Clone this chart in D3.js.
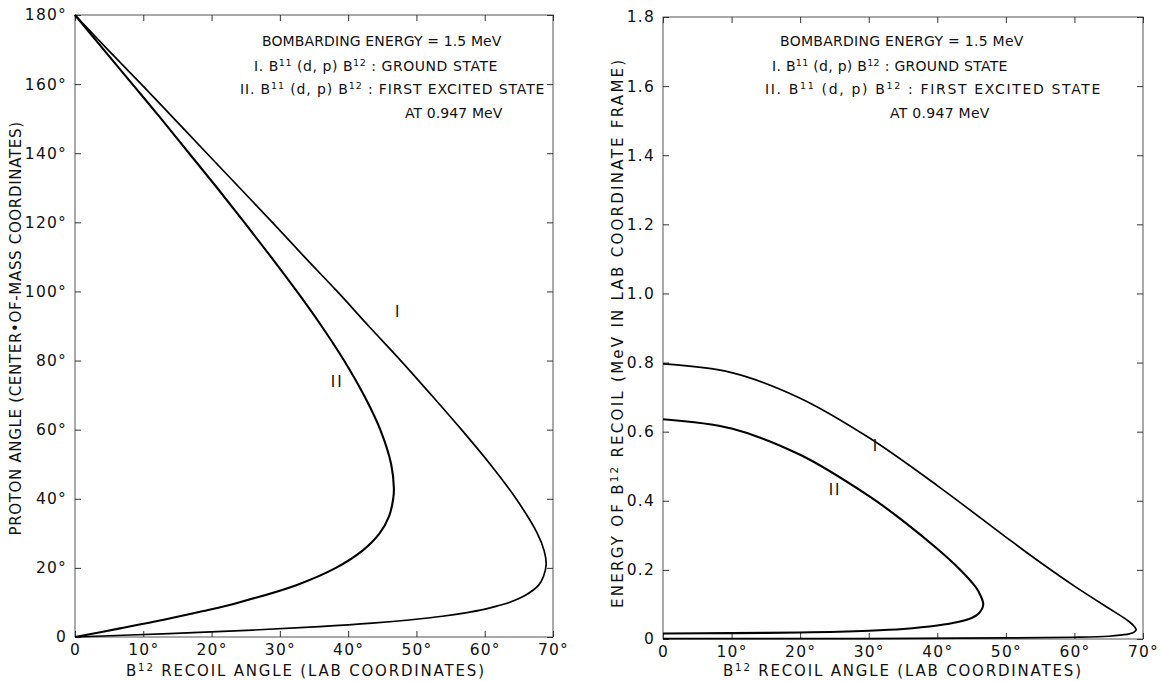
<!DOCTYPE html>
<html>
<head>
<meta charset="utf-8">
<script src="https://cdn.jsdelivr.net/npm/d3@7"></script>
<style>
  html, body { margin: 0; padding: 0; background: #fff; }
  svg { display: block; }
  text { font-family: "DejaVu Sans", "Liberation Sans", sans-serif; fill: #111; }
</style>
</head>
<body>
<svg id="chart" width="1162" height="681"></svg>
<script>
// ---------------- data ----------------
const xTickValues = [0, 10, 20, 30, 40, 50, 60, 70];
const xTickLabels = ["0", "10°", "20°", "30°", "40°", "50°", "60°", "70°"];
const leftYTickValues = [0, 20, 40, 60, 80, 100, 120, 140, 160, 180];
const leftYTickLabels = ["0", "20°", "40°", "60°", "80°", "100°", "120°", "140°", "160°", "180°"];
const rightYTickValues = [0, 0.2, 0.4, 0.6, 0.8, 1.0, 1.2, 1.4, 1.6, 1.8];
const rightYTickLabels = ["0", "0.2", "0.4", "0.6", "0.8", "1.0", "1.2", "1.4", "1.6", "1.8"];

// Left panel: [B12 recoil angle (lab, deg), proton angle (CM, deg)]
const angleGround = [
  [0,180],[4.8,170],[9.7,160],[14.5,150],[19.3,140],[24.1,130],[28.9,120],[33.6,110],
  [38.4,100],[43.0,90],[47.7,80],[52.2,70],[56.6,60],[60.8,50],[64.6,40],[67.7,30],
  [68.7,25],[69.0,21],[68.6,17.5],[67.9,15],[65.9,12],[63.6,10],[61.9,9],[59.9,8],
  [57.2,7],[53.8,6],[49.3,5],[43.5,4],[35.8,3],[26.0,2],[13.8,1],[0,0]
];
const angleExcited = [
  [0,180],[4.2,170],[8.4,160],[12.6,150],[16.7,140],[20.8,130],[24.8,120],[28.7,110],
  [32.5,100],[36.1,90],[39.4,80],[42.3,70],[44.7,60],[46.3,50],[46.7,43],[46.6,40],
  [46.0,35],[44.6,30],[42.1,25],[38.2,20],[32.4,15],[24.0,10],[18.8,7.5],[13.0,5],
  [6.6,2.5],[0,0]
];
// Right panel: [B12 recoil angle (lab, deg), B12 energy (MeV, lab)]
const energyGround = [
  [0,0.796],[10,0.771],[20,0.697],[30,0.583],[40,0.444],[50,0.295],[55,0.222],
  [60,0.153],[65,0.089],[67,0.064],[68,0.050],[68.7,0.037],[69.0,0.027],[68.7,0.020],
  [68,0.015],[67,0.012],[65,0.008],[60,0.005],[50,0.003],[30,0.001],[0,0.001]
];
const energyExcited = [
  [0,0.636],[10,0.609],[20,0.533],[30,0.414],[35,0.342],[40,0.261],[43,0.207],
  [45,0.165],[46,0.138],[46.7,0.100],[46,0.073],[45,0.061],[43,0.049],[40,0.039],
  [35,0.029],[30,0.024],[20,0.019],[10,0.017],[0,0.016]
];

// ---------------- drawing ----------------
const svg = d3.select("#chart");

function superscriptText(g, x, y, parts, opts) {
  const t = g.append("text").attr("x", x).attr("y", y)
    .attr("font-size", opts.size).attr("letter-spacing", opts.ls || 0);
  if (opts.anchor) t.attr("text-anchor", opts.anchor);
  if (opts.transform) t.attr("transform", opts.transform);
  if (opts.len) t.attr("textLength", opts.len).attr("lengthAdjust", "spacing");
  parts.forEach(p => {
    if (typeof p === "string") {
      t.append("tspan").text(p);
    } else {
      t.append("tspan").attr("font-size", opts.size * 0.68)
        .attr("baseline-shift", "super").text(p.sup);
    }
  });
  return t;
}

function panel(cfg) {
  const g = svg.append("g");
  const x = d3.scaleLinear().domain([0, 70]).range([cfg.x0, cfg.x1]);
  const y = d3.scaleLinear().domain(cfg.ydomain).range([cfg.y0, cfg.y1]);

  // frame
  g.append("rect").attr("x", cfg.x0).attr("y", cfg.y1)
    .attr("width", cfg.x1 - cfg.x0).attr("height", cfg.y0 - cfg.y1)
    .attr("fill", "none").attr("stroke", "#555").attr("stroke-width", 1);

  const fs = 15.5;
  const bottom = d3.axisBottom(x).tickValues(xTickValues)
    .tickFormat((d, i) => xTickLabels[i]).tickSize(-6).tickPadding(7);
  const gb = g.append("g").attr("transform", `translate(0,${cfg.y0})`).call(bottom);
  const left = d3.axisLeft(y).tickValues(cfg.yTicks)
    .tickFormat((d, i) => cfg.yLabels[i]).tickSize(-6).tickPadding(8);
  const gl = g.append("g").attr("transform", `translate(${cfg.x0},0)`).call(left);
  const top = d3.axisTop(x).tickValues(xTickValues).tickFormat("").tickSize(-6);
  const gt = g.append("g").attr("transform", `translate(0,${cfg.y1})`).call(top);
  const right = d3.axisRight(y).tickValues(cfg.yTicks).tickFormat("").tickSize(-6);
  const gr = g.append("g").attr("transform", `translate(${cfg.x1},0)`).call(right);
  [gb, gl, gt, gr].forEach(a => {
    a.select(".domain").remove();
    a.selectAll(".tick line").attr("stroke", "#333").attr("stroke-width", 1);
    a.selectAll("text").attr("font-size", fs).attr("fill", "#111")
      .attr("font-family", "DejaVu Sans, sans-serif").attr("letter-spacing", 1.2);
  });

  const line = d3.line().x(d => x(d[0])).y(d => y(d[1])).curve(d3.curveCatmullRom.alpha(0.5));
  g.append("path").datum(cfg.c1).attr("d", line)
    .attr("fill", "none").attr("stroke", "#000").attr("stroke-width", 1.7);
  g.append("path").datum(cfg.c2).attr("d", line)
    .attr("fill", "none").attr("stroke", "#000").attr("stroke-width", 2.1);

  // curve labels
  g.append("text").attr("x", x(cfg.l1[0])).attr("y", y(cfg.l1[1]))
    .attr("text-anchor", "middle").attr("dy", "0.35em").attr("font-size", 15).text("I");
  g.append("text").attr("x", x(cfg.l2[0])).attr("y", y(cfg.l2[1]))
    .attr("text-anchor", "middle").attr("dy", "0.35em").attr("font-size", 15)
    .attr("letter-spacing", 2).text("II");

  // x title
  superscriptText(g, cfg.xTitleX, 676, ["B", {sup: "12"}, " RECOIL ANGLE (LAB COORDINATES)"],
    {size: 15, ls: 2, anchor: "middle", len: 360});

  // annotation
  const a = cfg.ann, w = cfg.annW;
  superscriptText(g, a[0], 46, ["BOMBARDING ENERGY = 1.5 MeV"], {size: 14, ls: 0.6, len: w[0]});
  superscriptText(g, a[1], 71, ["I. B", {sup: "11"}, cfg.mid, {sup: "12"}, " : GROUND STATE"], {size: 14, ls: 0.6, len: w[1]});
  superscriptText(g, a[2], 94, ["II. B", {sup: "11"}, cfg.mid, {sup: "12"}, " : FIRST EXCITED STATE"], {size: 14, ls: 0.6, len: w[2]});
  superscriptText(g, a[3], 118, ["AT 0.947 MeV"], {size: 14, ls: 0.6, len: w[3]});
  return g;
}

panel({
  x0: 75, x1: 553, y0: 637, y1: 15, ydomain: [0, 180],
  yTicks: leftYTickValues, yLabels: leftYTickLabels,
  c1: angleGround, c2: angleExcited,
  l1: [47.2, 94], l2: [38.4, 74],
  xTitleX: 306, mid: " (d, p) B",
  ann: [262, 254, 240, 405], annW: [240, 244, 305, 98]
});
panel({
  x0: 663, x1: 1143, y0: 639, y1: 17, ydomain: [0, 1.8],
  yTicks: rightYTickValues, yLabels: rightYTickLabels,
  c1: energyGround, c2: energyExcited,
  l1: [30.9, 0.56], l2: [25.1, 0.433],
  xTitleX: 903, mid: " (d, p) B",
  ann: [780, 772, 765, 890], annW: [244, 236, 336, 100]
});

// y titles
superscriptText(svg, 0, 0, ["PROTON ANGLE (CENTER\u2022OF-MASS COORDINATES)"],
  {size: 15, ls: 1.5, anchor: "middle", len: 415, transform: "translate(21,328) rotate(-90)"});
superscriptText(svg, 0, 0, ["ENERGY OF B", {sup: "12"}, " RECOIL (MeV IN LAB COORDINATE FRAME)"],
  {size: 15, ls: 1.8, anchor: "middle", len: 550, transform: "translate(623,333) rotate(-90)"});
</script>
</body>
</html>
